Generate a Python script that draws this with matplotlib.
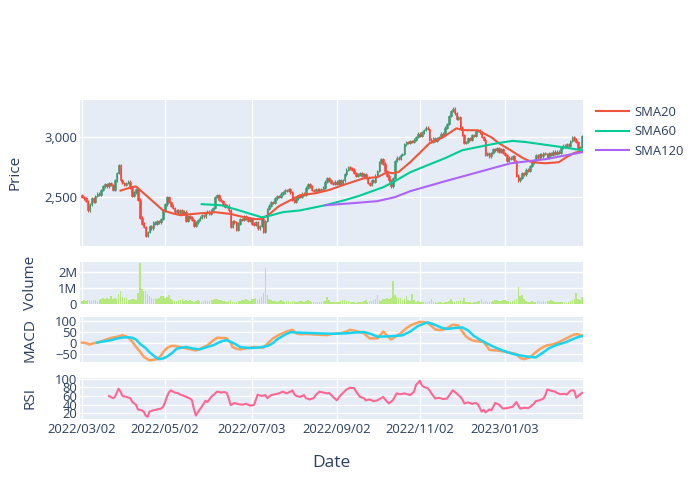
import numpy as np
import pandas as pd
import matplotlib
matplotlib.use('Agg')
import matplotlib.pyplot as plt

plt.rcParams['font.family'] = ['Open Sans', 'DejaVu Sans']
FONT_COLOR = '#2a3f5f'

# daily closes (business days from 2022/03/02)
close = [2500, 2490, 2470, 2390, 2440, 2490, 2460, 2510, 2530, 2520,
         2560, 2590, 2610, 2590, 2620, 2600, 2560, 2640, 2700, 2770,
         2640, 2620, 2600, 2620, 2630, 2580, 2510, 2540, 2570, 2480,
         2330, 2280, 2250, 2180, 2210, 2260, 2240, 2290, 2280, 2300,
         2290, 2320, 2390, 2440, 2500, 2460, 2430, 2410, 2380, 2390,
         2370, 2390, 2360, 2380, 2300, 2340, 2330, 2310, 2260, 2290,
         2310, 2330, 2350, 2340, 2370, 2380, 2360, 2390, 2410, 2500,
         2520, 2480, 2470, 2440, 2420, 2430, 2390, 2250, 2300, 2290,
         2230, 2280, 2320, 2310, 2340, 2320, 2300, 2320, 2280, 2270,
         2290, 2240, 2260, 2320, 2210, 2300, 2400, 2430, 2460, 2450,
         2490, 2510, 2500, 2530, 2540, 2560, 2550, 2570, 2540, 2480,
         2460, 2490, 2510, 2500, 2530, 2520, 2580, 2610, 2590, 2560,
         2550, 2570, 2550, 2570, 2560, 2580, 2630, 2660, 2640, 2620,
         2610, 2630, 2610, 2640, 2610, 2640, 2690, 2730, 2750, 2740,
         2730, 2700, 2680, 2690, 2700, 2680, 2690, 2660, 2620, 2600,
         2640, 2630, 2680, 2720, 2790, 2820, 2780, 2720, 2680, 2640,
         2590, 2660, 2800, 2830, 2820, 2850, 2860, 2940, 2960, 2950,
         2970, 2960, 2980, 3000, 3030, 3010, 3040, 3060, 3080, 3070,
         2980, 2960, 2990, 2970, 2990, 3000, 3030, 3020, 3080, 3110,
         3180, 3220, 3240, 3200, 3150, 3170, 3080, 3020, 2950, 2960,
         2990, 2980, 3020, 3010, 3050, 3060, 3040, 3000, 2980, 2850,
         2870, 2840, 2870, 2900, 2890, 2910, 2880, 2900, 2870, 2850,
         2800, 2830, 2820, 2840, 2800, 2680, 2640, 2660, 2700, 2690,
         2730, 2720, 2760, 2790, 2810, 2850, 2830, 2860, 2840, 2870,
         2860, 2830, 2870, 2850, 2880, 2860, 2880, 2870, 2910, 2930,
         2920, 2940, 2930, 2970, 3000, 2980, 2960, 2900, 2920, 3010]

# volume in millions
volume = [0.18, 0.22, 0.2, 0.25, 0.27, 0.2, 0.24, 0.22, 0.15, 0.25,
          0.3, 0.35, 0.28, 0.38, 0.3, 0.5, 0.32, 0.38, 0.3, 0.6,
          0.78, 0.42, 0.38, 0.35, 0.25, 0.22, 0.28, 0.3, 0.25, 0.7,
          2.55, 0.93, 0.78, 0.82, 0.6, 0.5, 0.38, 0.3, 0.35, 0.3,
          0.4, 0.52, 0.5, 0.38, 0.45, 0.55, 0.3, 0.25, 0.2, 0.18,
          0.25, 0.22, 0.28, 0.2, 0.24, 0.18, 0.22, 0.2, 0.15, 0.18,
          0.22, 0.18, 0.15, 0.2, 0.25, 0.2, 0.18, 0.22, 0.25, 0.3,
          0.28, 0.25, 0.22, 0.18, 0.2, 0.15, 0.18, 0.22, 0.15, 0.12,
          0.15, 0.2, 0.18, 0.25, 0.22, 0.3, 0.25, 0.2, 0.32, 0.28,
          0.4, 0.25, 0.3, 0.45, 0.7, 2.2, 0.55, 0.33, 0.22, 0.18,
          0.2, 0.15, 0.18, 0.22, 0.2, 0.15, 0.18, 0.2, 0.15, 0.18,
          0.2, 0.15, 0.12, 0.18, 0.2, 0.15, 0.18, 0.27, 0.2, 0.15,
          0.12, 0.15, 0.1, 0.12, 0.15, 0.18, 0.2, 0.42, 0.25, 0.15,
          0.12, 0.1, 0.15, 0.12, 0.18, 0.22, 0.27, 0.2, 0.18, 0.15,
          0.12, 0.1, 0.08, 0.12, 0.15, 0.1, 0.2, 0.25, 0.15, 0.2,
          0.18, 0.25, 0.3, 0.53, 0.22, 0.2, 0.28, 0.33, 0.35, 0.3,
          0.4, 1.4, 0.55, 0.45, 0.35, 0.38, 0.25, 0.3, 0.5, 0.22,
          0.2, 0.6, 0.25, 0.15, 0.18, 0.12, 0.15, 0.1, 0.12, 0.15,
          0.18, 0.3, 0.12, 0.1, 0.08, 0.1, 0.12, 0.08, 0.1, 0.15,
          0.2, 0.3, 0.18, 0.15, 0.2, 0.18, 0.22, 0.2, 0.38, 0.15,
          0.12, 0.1, 0.08, 0.1, 0.12, 0.18, 0.2, 0.3, 0.15, 0.2,
          0.12, 0.1, 0.15, 0.18, 0.22, 0.25, 0.2, 0.18, 0.22, 0.25,
          0.2, 0.18, 0.15, 0.2, 0.25, 0.3, 1.05, 0.5, 0.53, 0.33,
          0.2, 0.15, 0.12, 0.18, 0.15, 0.12, 0.2, 0.18, 0.15, 0.2,
          0.15, 0.18, 0.2, 0.27, 0.18, 0.15, 0.12, 0.1, 0.15, 0.12,
          0.1, 0.08, 0.12, 0.18, 0.25, 0.28, 0.71, 0.3, 0.25, 0.42]

# moving averages: (day index, value)
sma20_idx = [20, 24, 28, 35, 42, 47, 51, 56, 61, 69, 77, 84, 90, 93, 97, 102, 108, 113,
             121, 128, 135, 146, 153, 158, 161, 164, 170, 175, 180, 187, 194, 197, 205,
             212, 216, 222, 228, 233, 240, 247, 251, 255, 259]
sma20_val = [2555, 2575, 2590, 2490, 2390, 2365, 2350, 2358, 2365, 2375, 2360, 2333, 2317,
             2317, 2358, 2425, 2475, 2517, 2533, 2560, 2600, 2658, 2667, 2708, 2700, 2710,
             2792, 2870, 2950, 3000, 3075, 3060, 3058, 3000, 2950, 2892, 2830, 2792, 2783,
             2792, 2835, 2870, 2885]
sma60_idx = [62, 72, 81, 93, 96, 104, 113, 126, 136, 143, 156, 162, 170, 179, 188, 197,
             208, 215, 223, 230, 249, 259]
sma60_val = [2442, 2433, 2392, 2333, 2340, 2375, 2390, 2433, 2475, 2508, 2583, 2633, 2708,
             2767, 2825, 2892, 2928, 2950, 2970, 2960, 2917, 2892]
sma120_idx = [126, 140, 153, 162, 170, 188, 205, 222, 240, 259]
sma120_val = [2433, 2450, 2467, 2500, 2550, 2633, 2708, 2783, 2817, 2875]

macd_idx = [0, 2, 4, 6, 9, 12, 15, 18, 21, 23, 24, 26, 28, 30, 32, 34, 35, 37, 39, 41, 42,
            44, 46, 48, 51, 55, 59, 62, 65, 68, 70, 73, 75, 77, 78, 80, 82, 85, 89, 92, 94,
            96, 99, 102, 106, 109, 111, 113, 116, 120, 124, 127, 130, 134, 137, 139, 142,
            146, 149, 153, 156, 158, 160, 163, 165, 168, 170, 173, 175, 177, 179, 181, 183,
            185, 187, 190, 192, 195, 197, 199, 201, 203, 206, 208, 210, 211, 215, 218, 220,
            223, 225, 227, 229, 232, 235, 237, 239, 241, 244, 247, 249, 252, 255, 257, 259]
macd_val = [0, -2, -9, -3, 3, 12, 21, 26, 33, 28, 23, 5, -20, -40, -64, -76, -80, -78, -75,
            -58, -44, -25, -16, -15, -20, -28, -36, -25, -12, 10, 22, 21, 19, 0, -20, -28,
            -31, -26, -20, -22, -23, -5, 19, 35, 50, 58, 42, 38, 39, 37, 35, 34, 40, 42, 50,
            58, 52, 42, 19, 19, 50, 32, 14, 30, 42, 65, 77, 88, 94, 93, 89, 75, 59, 57, 58,
            70, 81, 77, 50, 27, 15, 8, 5, 3, -20, -33, -36, -40, -44, -48, -52, -70, -75,
            -67, -44, -30, -20, -12, -8, 2, 11, 24, 37, 38, 30]
signal_idx = [8, 11, 15, 18, 21, 24, 26, 28, 30, 33, 35, 38, 40, 42, 44, 47, 49, 52, 54, 57,
              61, 64, 68, 72, 75, 78, 82, 87, 92, 96, 99, 101, 105, 108, 113, 122, 130, 137,
              142, 146, 150, 153, 158, 162, 166, 170, 174, 179, 183, 186, 189, 193, 197, 200,
              203, 206, 210, 214, 218, 222, 225, 230, 235, 238, 242, 246, 250, 253, 256, 259]
signal_val = [0, 5, 11, 18, 23, 24, 22, 14, -5, -25, -44, -65, -75, -72, -64, -45, -28, -22,
              -20, -26, -31, -22, -12, 5, 11, 0, -20, -25, -22, -16, -2, 14, 35, 47, 45, 42,
              40, 42, 46, 48, 38, 27, 28, 30, 33, 50, 75, 92, 80, 68, 62, 66, 69, 55, 30, 14,
              -5, -22, -36, -48, -55, -63, -67, -50, -25, -10, 0, 11, 22, 30]

rsi_idx = [14, 16, 17, 19, 20, 21, 23, 25, 26, 27, 28, 29, 31, 32, 33, 34, 35, 37, 39, 41,
           42, 43, 44, 45, 46, 48, 50, 51, 53, 55, 56, 57, 58, 59, 60, 62, 63, 64, 65, 67,
           68, 70, 72, 74, 75, 76, 77, 79, 81, 83, 85, 87, 89, 90, 91, 93, 95, 96, 98, 100,
           102, 104, 106, 108, 109, 110, 111, 113, 115, 116, 118, 120, 121, 123, 125, 127,
           128, 130, 132, 133, 134, 135, 137, 139, 141, 142, 144, 146, 147, 149, 151, 153,
           156, 157, 159, 161, 163, 165, 167, 170, 172, 173, 175, 176, 177, 179, 180, 181,
           183, 185, 187, 189, 190, 192, 193, 195, 196, 197, 198, 200, 202, 204, 205, 206,
           207, 208, 209, 211, 212, 213, 214, 216, 218, 220, 222, 223, 225, 226, 227, 229,
           231, 232, 234, 235, 237, 239, 240, 241, 243, 245, 246, 248, 250, 251, 253, 254,
           255, 256, 257, 259]
rsi_val = [60, 55, 57, 77, 70, 60, 58, 55, 47, 43, 40, 29, 27, 24, 15, 12, 24, 27, 29, 31,
           35, 45, 58, 68, 73, 68, 66, 63, 60, 56, 54, 50, 30, 15, 22, 35, 42, 49, 46, 58,
           62, 70, 68, 69, 67, 55, 39, 44, 41, 40, 42, 38, 39, 50, 63, 60, 62, 55, 62, 64,
           66, 70, 66, 70, 73, 64, 60, 58, 62, 55, 52, 55, 62, 70, 68, 66, 67, 58, 50, 56,
           62, 66, 75, 79, 78, 70, 58, 55, 50, 52, 48, 50, 58, 52, 43, 50, 66, 64, 66, 62,
           70, 85, 95, 85, 81, 78, 73, 66, 54, 56, 53, 54, 60, 73, 70, 62, 58, 52, 43, 45,
           42, 44, 41, 33, 24, 28, 22, 29, 27, 35, 44, 40, 31, 32, 34, 35, 46, 38, 31, 33,
           32, 34, 42, 48, 50, 54, 62, 75, 72, 70, 67, 64, 65, 63, 72, 73, 72, 56, 60, 67]

tick_labels = ['2022/03/02', '2022/05/02', '2022/07/03', '2022/09/02', '2022/11/02', '2023/01/03']

dates = pd.bdate_range('2022-03-02', periods=len(close))
x = np.arange(len(close))
tick_pos = dates.searchsorted(pd.to_datetime(tick_labels))

close = np.array(close, dtype=float)
open_ = np.r_[close[0] + 20, close[:-1]]
up = close >= open_
colors = np.where(up, '#3D9970', '#FF4136')
body_lo = np.minimum(open_, close)
body_hi = np.maximum(open_, close)

fig = plt.figure(figsize=(7, 5), dpi=100)


def make_ax(top, bottom):
    ax = fig.add_axes([80 / 700, 1 - bottom / 500, 503 / 700, (bottom - top) / 500])
    ax.set_facecolor('#E5ECF6')
    for s in ax.spines.values():
        s.set_visible(False)
    ax.grid(True, color='white', linewidth=1)
    ax.set_axisbelow(True)
    ax.tick_params(length=0, labelsize=9.4, colors=FONT_COLOR, pad=2)
    ax.set_xlim(-1, 259.5)
    ax.set_xticks(tick_pos)
    ax.set_xticklabels([])
    return ax


# 1. price
ax1 = make_ax(100, 245.5)
ax1.vlines(x, body_lo - 10, body_hi + 10, colors=colors, linewidth=0.8)
ax1.bar(x, np.maximum(body_hi - body_lo, 6), bottom=body_lo, width=0.8,
        color=colors, edgecolor=colors, linewidth=0.4)
l20, = ax1.plot(sma20_idx, sma20_val, color='#EF553B', lw=1.5)
l60, = ax1.plot(sma60_idx, sma60_val, color='#00CC96', lw=1.5)
l120, = ax1.plot(sma120_idx, sma120_val, color='#AB63FA', lw=1.5)
ax1.set_ylim(2097, 3311)
ax1.set_yticks([2500, 3000])
ax1.set_yticklabels(['2,500', '3,000'])

# 2. volume
ax2 = make_ax(262, 304)
ax2.bar(x, np.array(volume) * 1e6, width=0.8, color='#B6E880')
ax2.set_ylim(0, 2.6e6)
ax2.set_yticks([0, 1e6, 2e6])
ax2.set_yticklabels(['0', '1M', '2M'])

# 3. macd
ax3 = make_ax(317, 362)
ax3.plot(macd_idx, macd_val, color='#FFA15A', lw=1.8)
ax3.plot(signal_idx, signal_val, color='#19D3F3', lw=1.8)
ax3.set_ylim(-88, 116)
ax3.set_yticks([-50, 0, 50, 100])
ax3.set_yticklabels(['\u221250', '0', '50', '100'])

# 4. rsi
ax4 = make_ax(378, 419)
ax4.plot(rsi_idx, rsi_val, color='#FF6692', lw=1.5)
ax4.set_ylim(7, 101.4)
ax4.set_yticks([20, 40, 60, 80, 100])
ax4.set_xticklabels(tick_labels)
ax4.tick_params(axis='x', pad=3)

for txt, xp, yp in [('Price', 15, 172), ('Volume', 30, 283), ('MACD', 30, 340), ('RSI', 30, 398)]:
    fig.text(xp / 700, 1 - yp / 500, txt, rotation=90, ha='center', va='center',
             fontsize=11, color=FONT_COLOR)
fig.text(331 / 700, 1 - 463 / 500, 'Date', ha='center', va='center', fontsize=12.5, color=FONT_COLOR)

fig.legend(handles=[l20, l60, l120], labels=['SMA20', 'SMA60', 'SMA120'],
           loc='upper left', bbox_to_anchor=(592 / 700, 1 - 102 / 500), frameon=False,
           fontsize=9.4, handlelength=2.5, labelspacing=0.5, handletextpad=0.45,
           labelcolor=FONT_COLOR, borderaxespad=0, borderpad=0.3)

fig.savefig('out.png', dpi=100)
